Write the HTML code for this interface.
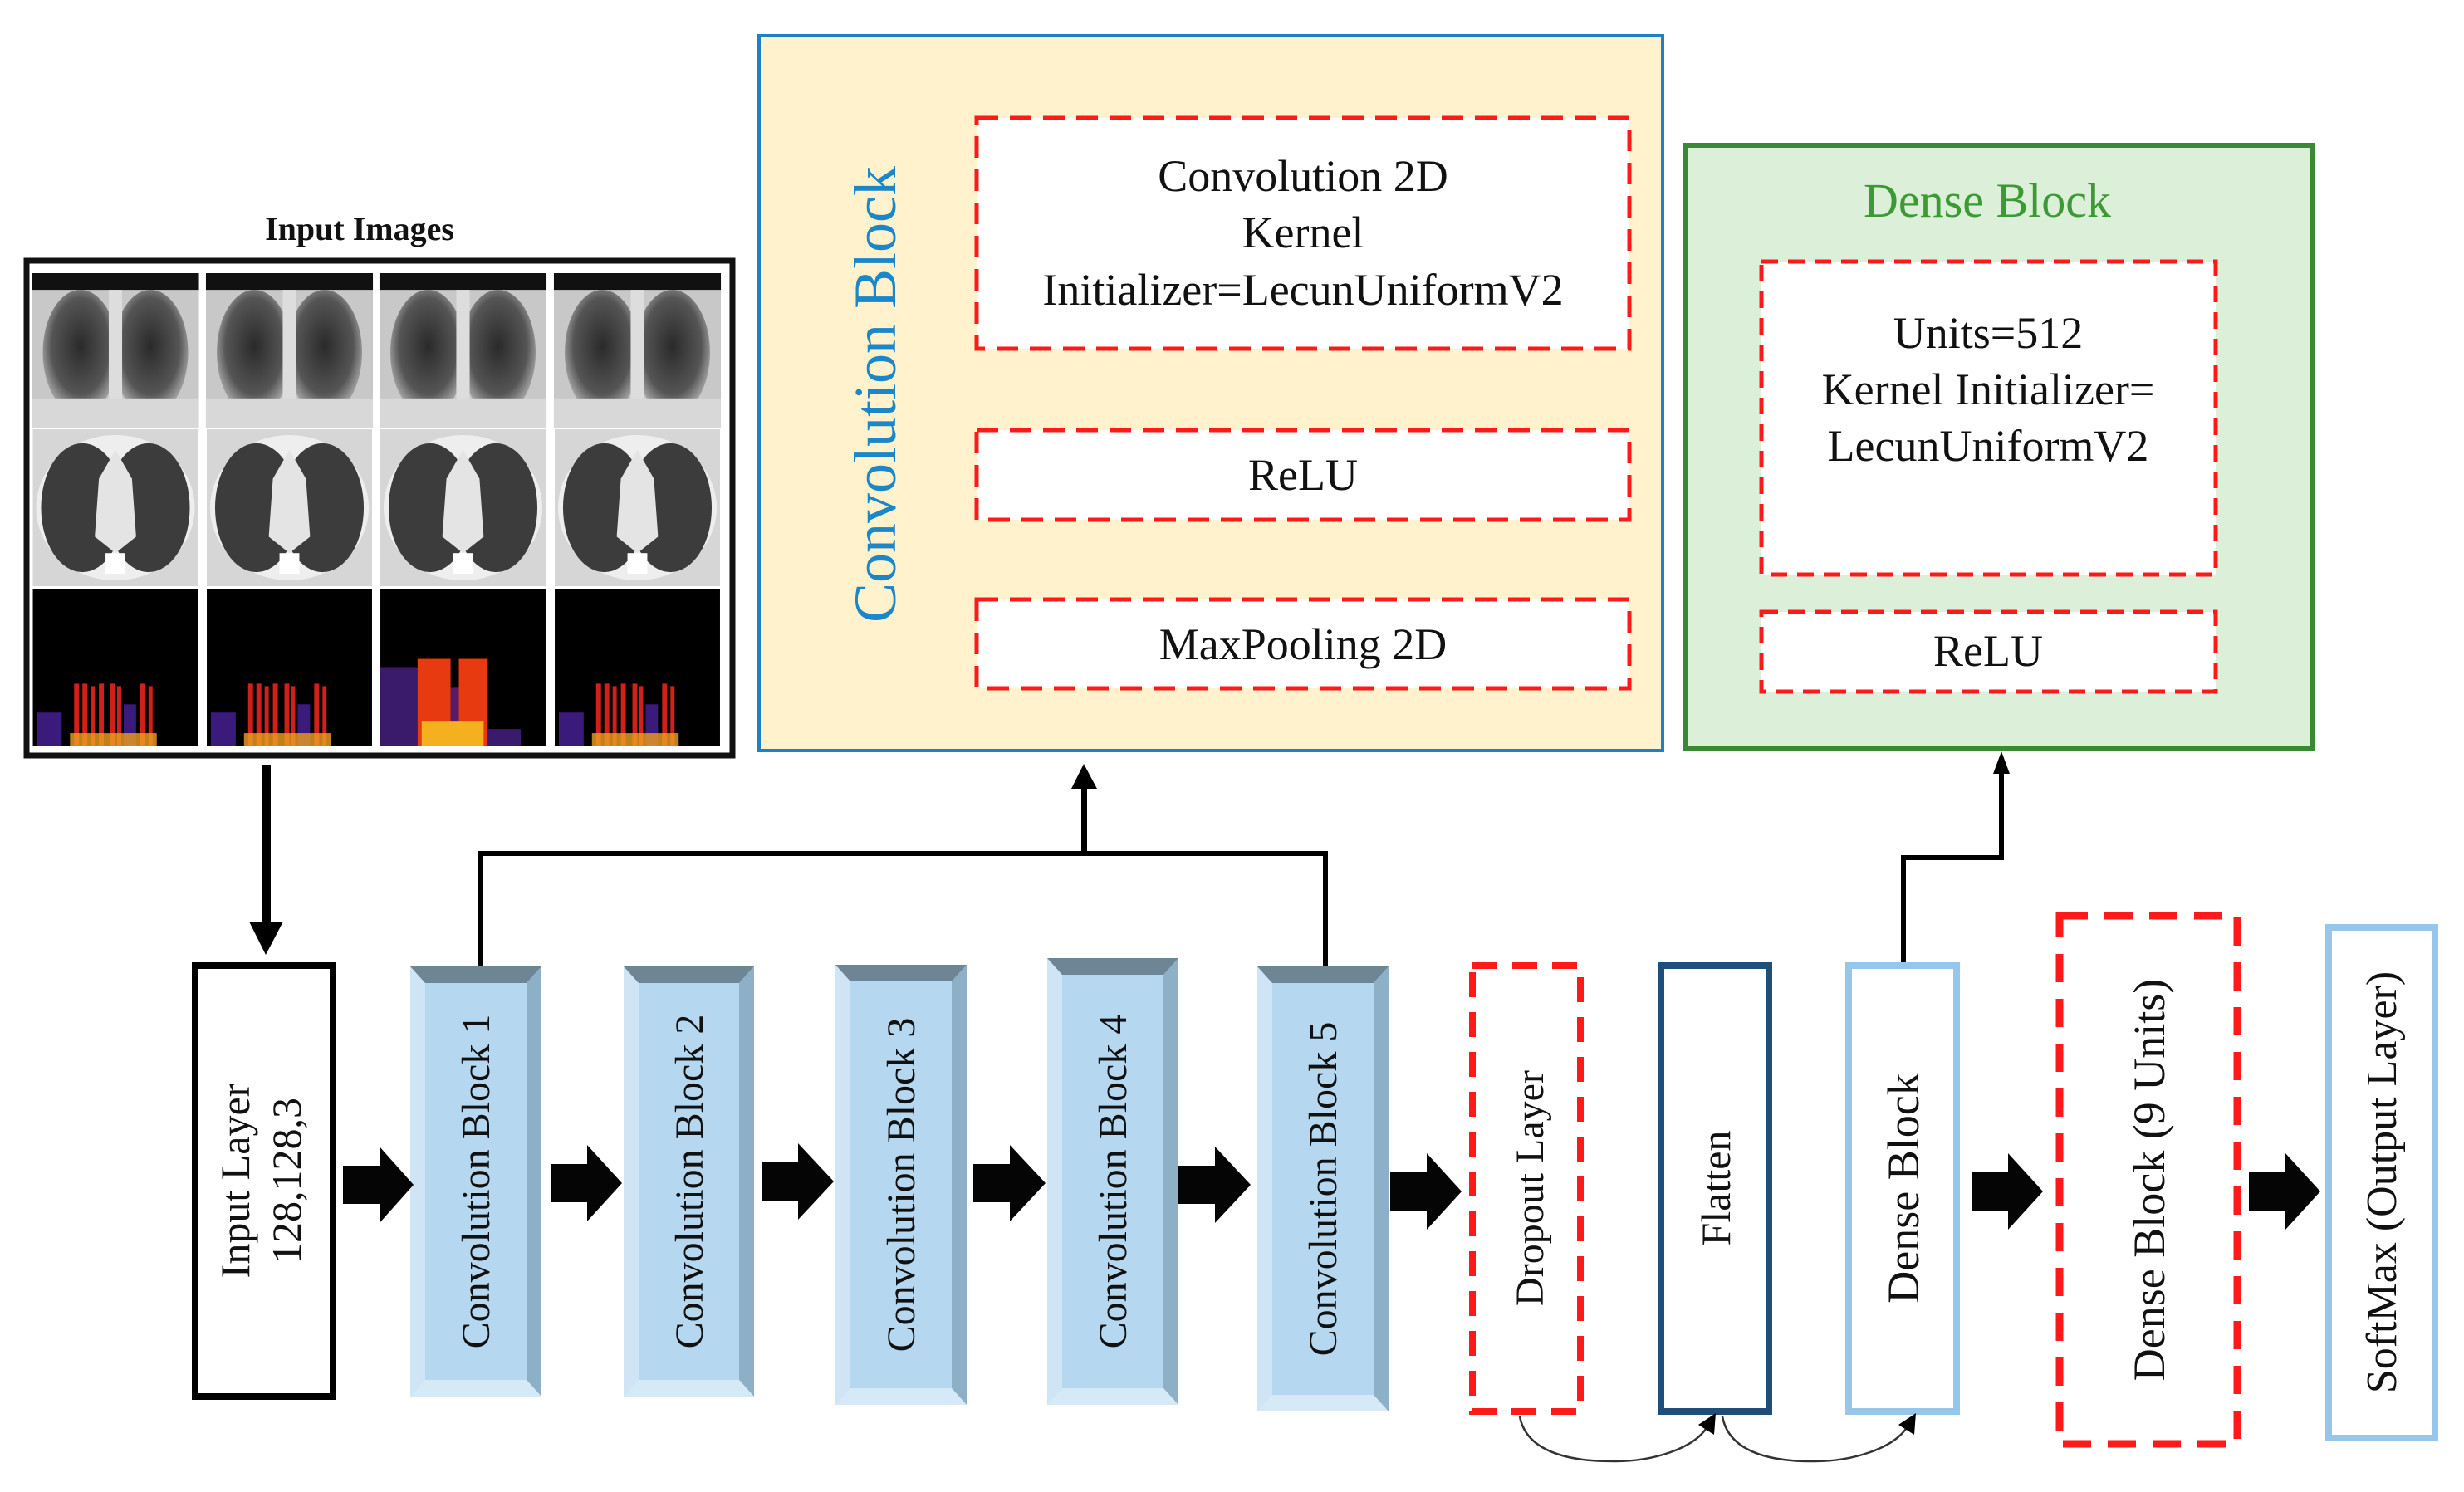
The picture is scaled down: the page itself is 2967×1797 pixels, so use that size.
<!DOCTYPE html>
<html><head><meta charset="utf-8"><style>
html,body{margin:0;padding:0;background:#fff;}
svg{display:block;}
svg text{font-family:"Liberation Serif","DejaVu Serif",serif;}
</style></head><body>
<svg width="2967" height="1797" viewBox="0 0 2967 1797" xmlns="http://www.w3.org/2000/svg" font-family="Liberation Serif, serif">
<defs>
<radialGradient id="lung" cx="50%" cy="45%" r="55%"><stop offset="0" stop-color="#2a2a2a"/><stop offset="0.7" stop-color="#555"/><stop offset="1" stop-color="#aaa"/></radialGradient>
<symbol id="xray" viewBox="0 0 200 185">
<rect width="200" height="185" fill="#c8c8c8"/>
<rect width="200" height="20" fill="#111"/>
<ellipse cx="58" cy="95" rx="45" ry="75" fill="url(#lung)"/>
<ellipse cx="142" cy="95" rx="45" ry="75" fill="url(#lung)"/>
<rect x="92" y="20" width="16" height="165" fill="#ddd"/>
<rect y="150" width="200" height="35" fill="#d8d8d8"/>
</symbol>
<symbol id="ct" viewBox="0 0 200 190">
<rect width="200" height="190" fill="#d6d6d6"/>
<ellipse cx="100" cy="95" rx="96" ry="88" fill="#eee"/>
<ellipse cx="60" cy="95" rx="50" ry="78" fill="#3c3c3c"/>
<ellipse cx="140" cy="95" rx="50" ry="78" fill="#3c3c3c"/>
<path d="M80 60 L100 25 L120 60 L125 130 L100 150 L75 130Z" fill="#e4e4e4"/>
<rect x="88" y="150" width="24" height="25" fill="#fff"/>
</symbol>
<symbol id="spec" viewBox="0 0 200 190">
<rect width="200" height="190" fill="#000"/>
<g fill="#d0201a">
<rect x="50" y="115" width="6" height="75"/><rect x="60" y="115" width="6" height="75"/><rect x="70" y="118" width="5" height="72"/><rect x="80" y="115" width="6" height="75"/><rect x="94" y="115" width="6" height="75"/><rect x="102" y="118" width="5" height="72"/><rect x="130" y="115" width="6" height="75"/><rect x="140" y="118" width="5" height="72"/>
</g>
<g fill="#3a1a7a"><rect x="5" y="150" width="30" height="40"/><rect x="110" y="140" width="15" height="50"/></g>
<rect x="45" y="175" width="105" height="15" fill="#f0a020" opacity="0.8"/>
</symbol>
<symbol id="spec2" viewBox="0 0 200 190">
<rect width="200" height="190" fill="#000"/>
<rect x="0" y="95" width="45" height="95" fill="#3a1a6a"/>
<rect x="45" y="85" width="40" height="105" fill="#e83a10"/>
<rect x="95" y="85" width="35" height="105" fill="#e83a10"/>
<rect x="85" y="120" width="10" height="70" fill="#5a1a6a"/>
<rect x="50" y="160" width="75" height="30" fill="#f5b020"/>
<rect x="130" y="170" width="40" height="20" fill="#3a1a6a"/>
</symbol>
</defs>

<text x="433" y="289" font-size="40" font-weight="bold" text-anchor="middle" fill="#111">Input Images</text>
<rect x="32" y="314" width="850" height="596" fill="#fff" stroke="#111" stroke-width="7"/>
<use href="#xray" x="37" y="329" width="204" height="186" preserveAspectRatio="none"/>
<use href="#xray" x="246" y="329" width="205" height="186" preserveAspectRatio="none"/>
<use href="#xray" x="455" y="329" width="205" height="186" preserveAspectRatio="none"/>
<use href="#xray" x="664" y="329" width="207" height="186" preserveAspectRatio="none"/>
<use href="#ct" x="37" y="517" width="204" height="189" preserveAspectRatio="none"/>
<use href="#ct" x="246" y="517" width="205" height="189" preserveAspectRatio="none"/>
<use href="#ct" x="455" y="517" width="205" height="189" preserveAspectRatio="none"/>
<use href="#ct" x="664" y="517" width="207" height="189" preserveAspectRatio="none"/>
<use href="#spec" x="37" y="709" width="204" height="189" preserveAspectRatio="none"/>
<use href="#spec" x="246" y="709" width="205" height="189" preserveAspectRatio="none"/>
<use href="#spec2" x="455" y="709" width="205" height="189" preserveAspectRatio="none"/>
<use href="#spec" x="664" y="709" width="207" height="189" preserveAspectRatio="none"/>

<rect x="315" y="921" width="11" height="195" fill="#000"/>
<polygon points="300,1110 341,1110 320,1150" fill="#000"/>

<rect x="914" y="43" width="1088" height="861" fill="#fff2cc" stroke="#1f80c4" stroke-width="4"/>
<text transform="translate(1078,475) rotate(-90)" font-size="72" fill="#1b86c8" text-anchor="middle" font-family="Liberation Serif, serif">Convolution Block</text>
<g fill="#fff" stroke="#ff1a1a" stroke-width="5" stroke-dasharray="26,14">
<rect x="1176" y="142" width="786" height="278"/>
<rect x="1176" y="518" width="786" height="108"/>
<rect x="1176" y="722" width="786" height="107"/>
</g>
<g font-size="54" text-anchor="middle" fill="#111" font-family="Liberation Serif, serif">
<text x="1569" y="230">Convolution 2D</text>
<text x="1569" y="298">Kernel</text>
<text x="1569" y="367">Initializer=LecunUniformV2</text>
<text x="1569" y="590">ReLU</text>
<text x="1569" y="794">MaxPooling 2D</text>
</g>

<rect x="2030" y="175" width="755" height="726" fill="#dcefd9" stroke="#3a8a35" stroke-width="6"/>
<text x="2393" y="261" font-size="58" text-anchor="middle" fill="#3c9a35" font-family="Liberation Serif, serif">Dense Block</text>
<g fill="#fff" stroke="#ff1a1a" stroke-width="5" stroke-dasharray="20,12">
<rect x="2121" y="315" width="547" height="377"/>
<rect x="2121" y="737" width="547" height="96"/>
</g>
<g font-size="54" text-anchor="middle" fill="#111" font-family="Liberation Serif, serif">
<text x="2394" y="419">Units=512</text>
<text x="2394" y="487">Kernel Initializer=</text>
<text x="2394" y="555">LecunUniformV2</text>
<text x="2394" y="802">ReLU</text>
</g>

<polyline points="578,1164 578,1028 1596,1028 1596,1164" fill="none" stroke="#000" stroke-width="6"/>
<rect x="1302" y="945" width="7" height="83" fill="#000"/>
<polygon points="1290,950 1321,950 1305,920" fill="#000"/>

<polyline points="2292,1162 2292,1033 2410,1033 2410,930" fill="none" stroke="#000" stroke-width="6"/>
<polygon points="2400,932 2420,932 2410,905" fill="#000"/>

<g font-family="Liberation Serif, serif" fill="#111" text-anchor="middle">
<rect x="235" y="1163" width="166" height="519" fill="#fff" stroke="#000" stroke-width="8"/>
<text transform="translate(300,1422) rotate(-90)" font-size="50">Input Layer</text>
<text transform="translate(362,1422) rotate(-90)" font-size="50">128,128,3</text>

<g transform="translate(494,1164)">
<rect width="158" height="518" fill="#cfe5f6"/>
<polygon points="0,0 158,0 140,20 18,20" fill="#6e8596"/>
<polygon points="158,0 158,518 140,498 140,20" fill="#8eb0c6"/>
<polygon points="0,518 158,518 140,498 18,498" fill="#d6e9f7"/>
<rect x="18" y="20" width="122" height="478" fill="#b5d7ef"/>
<text transform="translate(95,259) rotate(-90)" font-size="48">Convolution Block 1</text>
</g>
<g transform="translate(751,1164)">
<rect width="157" height="518" fill="#cfe5f6"/>
<polygon points="0,0 157,0 139,20 18,20" fill="#6e8596"/>
<polygon points="157,0 157,518 139,498 139,20" fill="#8eb0c6"/>
<polygon points="0,518 157,518 139,498 18,498" fill="#d6e9f7"/>
<rect x="18" y="20" width="121" height="478" fill="#b5d7ef"/>
<text transform="translate(95,259) rotate(-90)" font-size="48">Convolution Block 2</text>
</g>
<g transform="translate(1006,1162)">
<rect width="158" height="530" fill="#cfe5f6"/>
<polygon points="0,0 158,0 140,20 18,20" fill="#6e8596"/>
<polygon points="158,0 158,530 140,510 140,20" fill="#8eb0c6"/>
<polygon points="0,530 158,530 140,510 18,510" fill="#d6e9f7"/>
<rect x="18" y="20" width="122" height="490" fill="#b5d7ef"/>
<text transform="translate(95,265) rotate(-90)" font-size="48">Convolution Block 3</text>
</g>
<g transform="translate(1261,1154)">
<rect width="158" height="538" fill="#cfe5f6"/>
<polygon points="0,0 158,0 140,20 18,20" fill="#6e8596"/>
<polygon points="158,0 158,538 140,518 140,20" fill="#8eb0c6"/>
<polygon points="0,538 158,538 140,518 18,518" fill="#d6e9f7"/>
<rect x="18" y="20" width="122" height="498" fill="#b5d7ef"/>
<text transform="translate(95,269) rotate(-90)" font-size="48">Convolution Block 4</text>
</g>
<g transform="translate(1514,1164)">
<rect width="158" height="536" fill="#cfe5f6"/>
<polygon points="0,0 158,0 140,20 18,20" fill="#6e8596"/>
<polygon points="158,0 158,536 140,516 140,20" fill="#8eb0c6"/>
<polygon points="0,536 158,536 140,516 18,516" fill="#d6e9f7"/>
<rect x="18" y="20" width="122" height="496" fill="#b5d7ef"/>
<text transform="translate(95,268) rotate(-90)" font-size="48">Convolution Block 5</text>
</g>

<rect x="1773" y="1163" width="130" height="537" fill="#fff" stroke="#ff1a1a" stroke-width="8" stroke-dasharray="30,18"/>
<text transform="translate(1858,1431) rotate(-90)" font-size="48">Dropout Layer</text>
<rect x="2000" y="1163" width="130" height="537" fill="#fff" stroke="#1f4e79" stroke-width="8"/>
<text transform="translate(2083,1431) rotate(-90)" font-size="50">Flatten</text>
<rect x="2226" y="1163" width="130" height="537" fill="#fff" stroke="#96c6ea" stroke-width="8"/>
<text transform="translate(2310,1431) rotate(-90)" font-size="54">Dense Block</text>
<rect x="2480" y="1103" width="214" height="636" fill="#fff" stroke="#ff1a1a" stroke-width="9" stroke-dasharray="34,20"/>
<text transform="translate(2606,1421) rotate(-90)" font-size="54">Dense Block (9 Units)</text>
<rect x="2804" y="1117" width="128" height="615" fill="#fff" stroke="#96c6ea" stroke-width="8"/>
<text transform="translate(2885,1424) rotate(-90)" font-size="52">SoftMax (Output Layer)</text>
</g>

<g fill="#050505">
<polygon points="413,1404 457,1404 457,1381 498,1427 457,1473 457,1450 413,1450"/>
<polygon points="663,1402 707,1402 707,1379 749,1425 707,1471 707,1448 663,1448"/>
<polygon points="917,1400 961,1400 961,1377 1004,1423 961,1469 961,1446 917,1446"/>
<polygon points="1172,1402 1216,1402 1216,1379 1259,1425 1216,1471 1216,1448 1172,1448"/>
<polygon points="1419,1404 1463,1404 1463,1381 1506,1427 1463,1473 1463,1450 1419,1450"/>
<polygon points="1674,1412 1718,1412 1718,1389 1760,1435 1718,1481 1718,1458 1674,1458"/>
<polygon points="2374,1412 2418,1412 2418,1389 2460,1435 2418,1481 2418,1458 2374,1458"/>
<polygon points="2708,1412 2752,1412 2752,1389 2794,1435 2752,1481 2752,1458 2708,1458"/>
</g>

<g fill="none" stroke="#333" stroke-width="2.5">
<path d="M1830,1706 C1840,1760 1920,1760 1945,1760 C1990,1760 2040,1745 2056,1718"/>
<path d="M2074,1706 C2084,1760 2160,1760 2185,1760 C2230,1760 2280,1745 2297,1718"/>
</g>
<polygon points="2045,1716 2066,1702 2064,1728" fill="#000"/>
<polygon points="2286,1716 2307,1702 2305,1728" fill="#000"/>
</svg>
</body></html>
